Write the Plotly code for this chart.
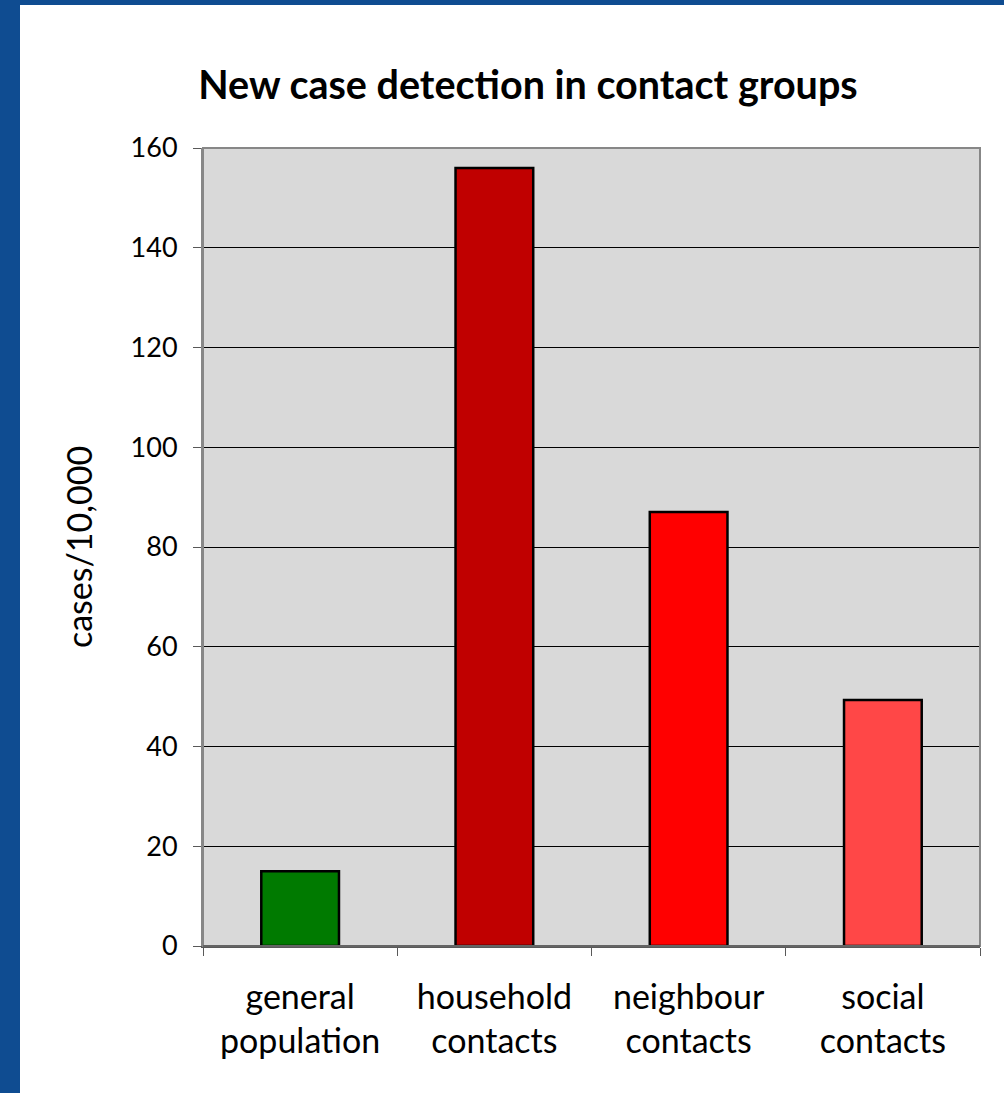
import plotly.graph_objects as go

categories = ["general<br>population", "household<br>contacts", "neighbour<br>contacts", "social<br>contacts"]
values = [15, 156, 87, 49.3]
bar_colors = ["#007A00", "#C00000", "#FF0000", "#FF4747"]
y_ticks = [0, 20, 40, 60, 80, 100, 120, 140, 160]

W, H = 1004, 1093
L, R, T, B = 203, 24, 148, 147
pw, ph = W - L - R, H - T - B

def px_x(p):
    return (p - L) / pw

def px_y(p):
    return (H - B - p) / ph

FONT = "Lato"

fig = go.Figure(go.Bar(
    x=categories, y=values,
    marker=dict(color=bar_colors, line=dict(color="black", width=2.5)),
    width=0.4,
))

border = "#0F4C91"
fig.update_layout(
    width=W, height=H,
    margin=dict(l=L, r=R, t=T, b=B),
    paper_bgcolor="white", plot_bgcolor="#D9D9D9",
    showlegend=False,
    title=dict(text="<b>New case detection in contact groups</b>",
               x=528 / W, xanchor="center", y=1 - 85 / H, yanchor="middle",
               font=dict(family=FONT, size=39.5, color="black")),
    font=dict(family=FONT, color="black"),
    xaxis=dict(showgrid=False, showline=True, linecolor="#595959", linewidth=1.5,
               ticks="outside", tickson="boundaries", ticklen=8, tickcolor="#595959",
               tickfont=dict(size=34), ticklabelstandoff=20),
    yaxis=dict(range=[0, 160], tickvals=y_ticks, showgrid=True, gridcolor="black", gridwidth=1,
               showline=True, linecolor="#878787", linewidth=2,
               ticks="outside", ticklen=8, tickcolor="#595959",
               tickfont=dict(size=27), zeroline=False, ticklabelstandoff=10,
               title=dict(text="cases/10,000", font=dict(size=34), standoff=28)),
    shapes=[
        dict(type="rect", xref="paper", yref="paper", x0=0, x1=1, y0=0, y1=1,
             line=dict(color="#878787", width=2), layer="above"),
        dict(type="line", xref="paper", yref="paper", x0=0, x1=1, y0=0, y1=0,
             line=dict(color="#595959", width=1.5), layer="above"),
        dict(type="rect", xref="paper", yref="paper", x0=px_x(0), x1=px_x(20),
             y0=px_y(H), y1=px_y(0), fillcolor=border, line=dict(width=0), layer="above"),
        dict(type="rect", xref="paper", yref="paper", x0=px_x(0), x1=px_x(W),
             y0=px_y(5), y1=px_y(0), fillcolor=border, line=dict(width=0), layer="above"),
    ],
)

fig.write_html("out.html", config={"displayModeBar": False},
               post_script="document.body.style.margin='0';")
